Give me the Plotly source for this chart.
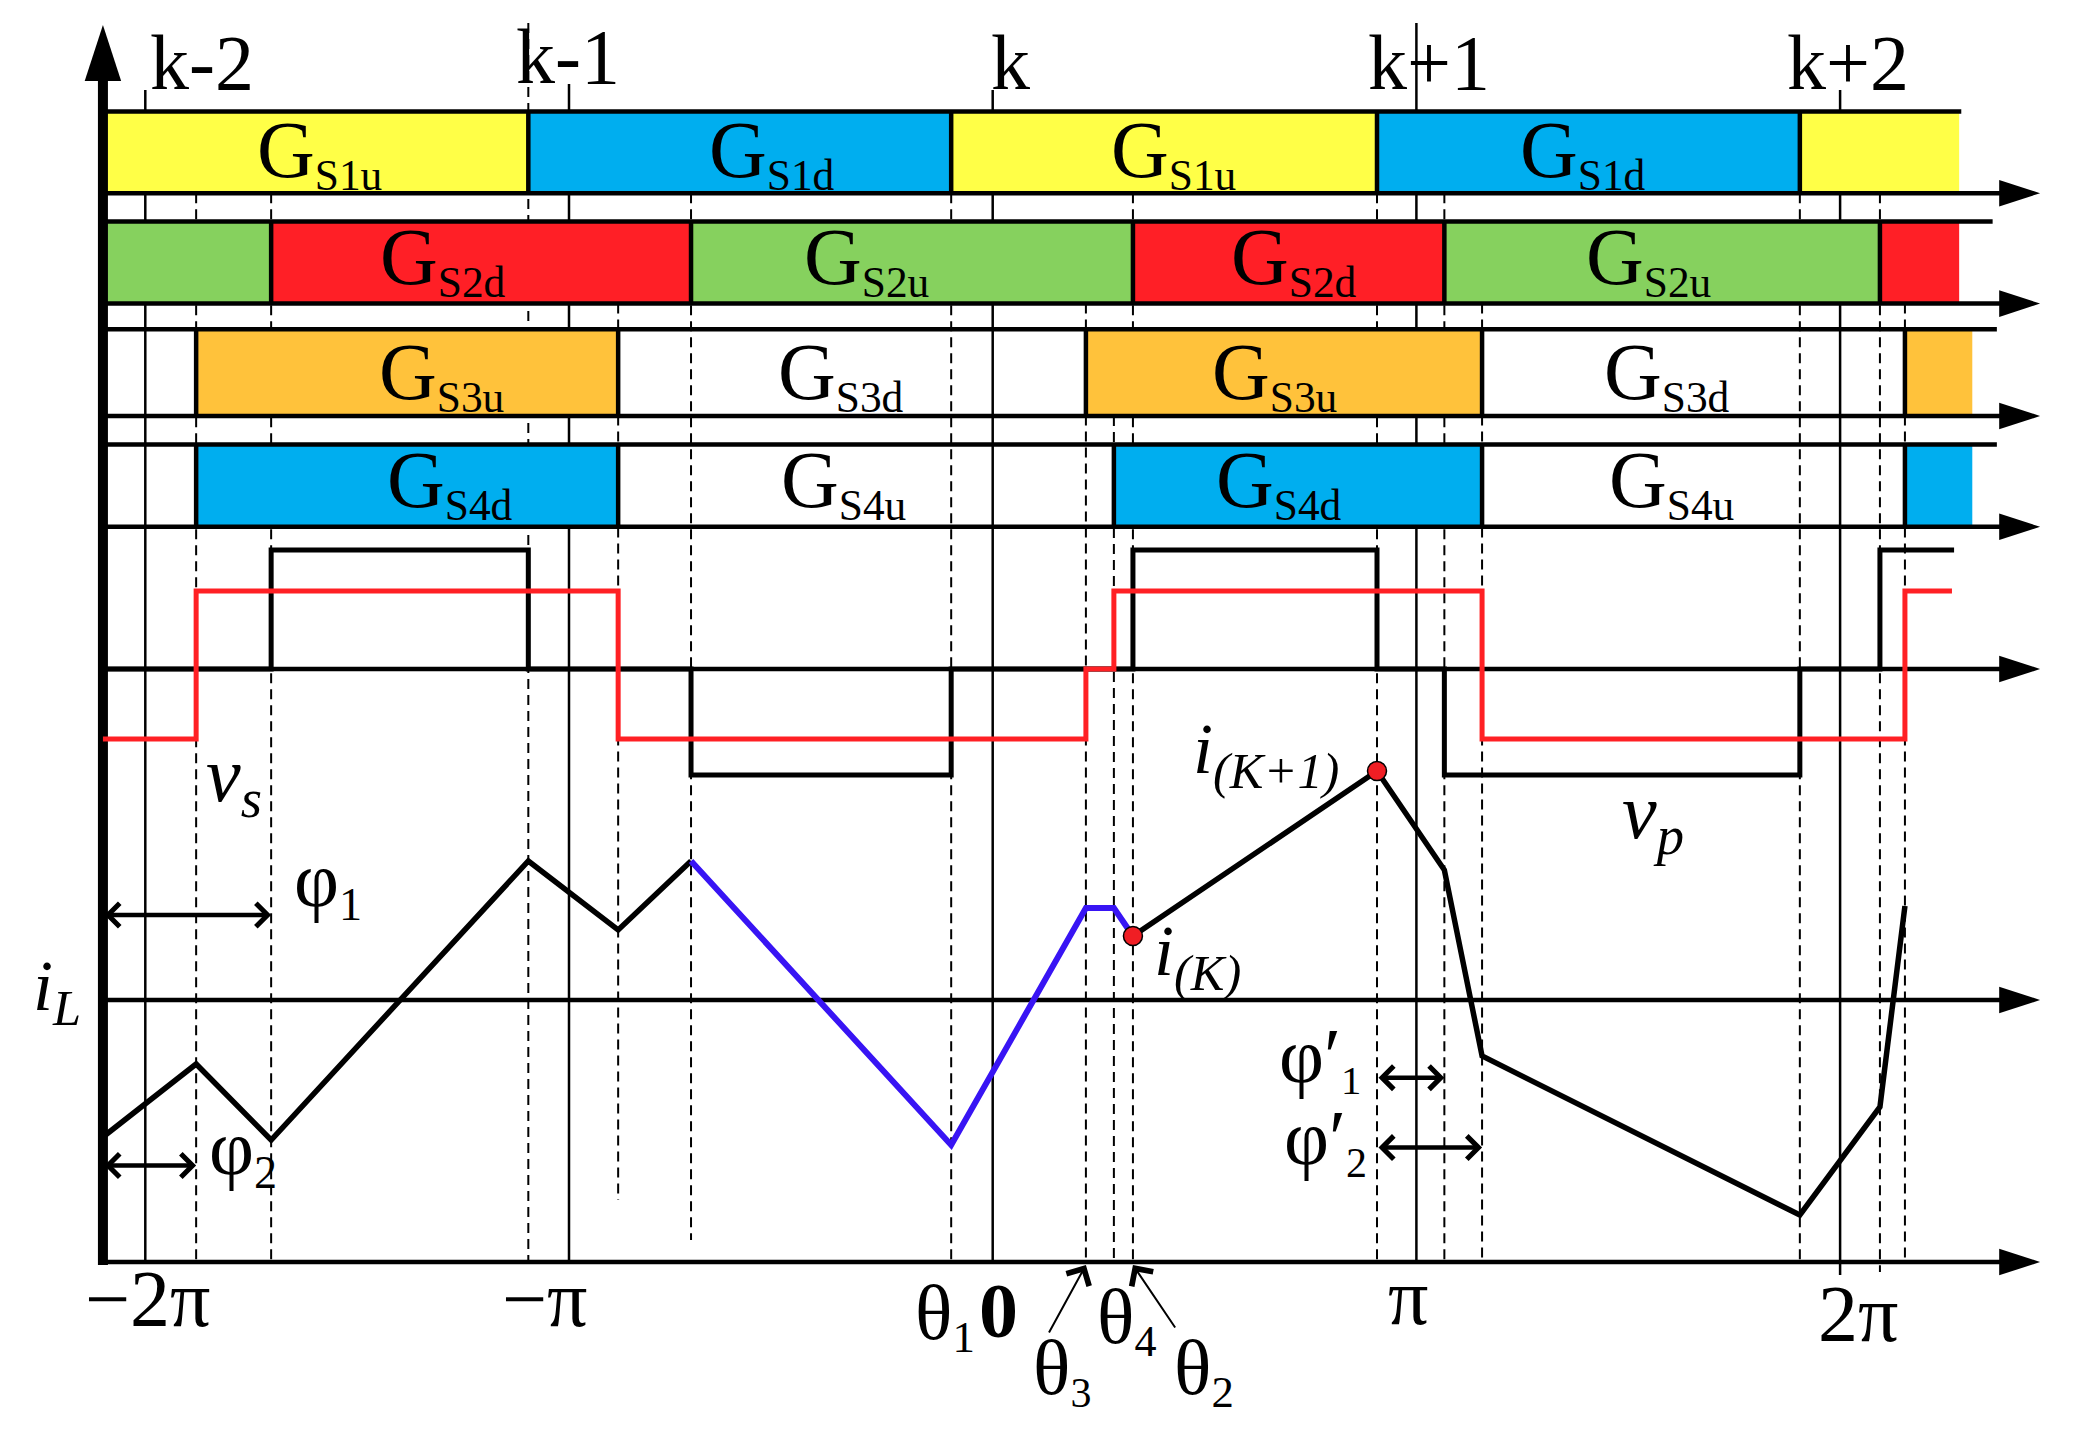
import plotly.graph_objects as go

# ======================= DATA (phase in units of pi) =======================
PHASE_AXIS = -2.100                      # phase at the vertical axis
K_PHASES = [-2, -1, 0, 1, 2]
K_LABELS = ["k-2", "k-1", "k", "k+1", "k+2"]
TICK_PHASES = [-2, -1, 1, 2]
TICK_LABELS = ["−2π", "−π", "π", "2π"]

# gate switching instants
S1_EDGES = [-1.096, -0.098, 0.907, 1.905]
S2_EDGES = [-1.703, -0.712, 0.331, 1.066, 2.094]
S3_EDGES = [-1.880, -0.884, 0.220, 1.155, 2.153]
S4_EDGES = [-1.880, -0.884, 0.286, 1.155, 2.153]
S12_END = 2.281
S34_END = 2.312
S1_STATES = ["u", "d", "u", "d", "u"]
S2_STATES = ["u", "d", "u", "d", "u", "d"]
S3_STATES = ["d", "u", "d", "u", "d", "u"]
S4_STATES = ["u", "d", "u", "d", "u", "d"]
S1_LABELS = ["S1u", "S1d", "S1u", "S1d"]
S2_LABELS = ["S2d", "S2u", "S2d", "S2u"]
S3_LABELS = ["S3u", "S3d", "S3u", "S3d"]
S4_LABELS = ["S4d", "S4u", "S4d", "S4u"]

# bridge voltages (piecewise constant)
VP_EDGES = [-2.100, -1.703, -1.096, -0.712, -0.098, 0.331, 0.907, 1.066, 1.905, 2.094]
VP_LEVELS = [0, 1.19, 0, -1.06, 0, 1.19, 0, -1.06, 0, 1.19]
VP_END = 2.269
VS_EDGES = [-2.100, -1.880, -0.884, 0.220, 0.286, 1.155, 2.153]
VS_LEVELS = [-0.70, 0.78, -0.70, 0.0, 0.78, -0.70, 0.78]
VS_END = 2.264

# inductor current
IL1_PHASE = [-2.100, -1.880, -1.703, -1.096, -0.884, -0.712]
IL1 = [-1.37, -0.64, -1.40, 1.39, 0.70, 1.39]
IL2_PHASE = [-0.712, -0.098, 0.220, 0.286, 0.331]
IL2 = [1.39, -1.45, 0.92, 0.92, 0.64]
IL3_PHASE = [0.331, 0.907, 1.066, 1.155, 1.905, 2.094, 2.153]
IL3 = [0.64, 2.29, 1.30, -0.56, -2.15, -1.07, 0.94]

THETA1, THETA3, THETA4, THETA2 = -0.098, 0.220, 0.286, 0.331

# ======================= LAYOUT CONSTANTS =======================
W, H = 2084, 1434          # reference canvas
PAGE = 8                   # browser body margin around the figure
FIG_W, FIG_H = W - 2 * PAGE, H - 2 * PAGE
X_ZERO_PX = 992.7
PX_PER_PI = 423.7
X_RANGE = [(PAGE - X_ZERO_PX) / PX_PER_PI, (FIG_W + PAGE - X_ZERO_PX) / PX_PER_PI]
Y_RANGE = [FIG_H + PAGE, PAGE]

ROW_TOP = [111.4, 221.4, 329.3, 444.6]
ROW_BOT = [193.2, 303.6, 416.0, 526.8]
ROW_TOPLINE_END = [2.286, 2.360, 2.370, 2.370]
ARROW_TIP = 2.472
V_AXIS_Y, IL_AXIS_Y, T_AXIS_Y = 669, 1000, 1262
Y_AXIS_TOP = 25
V_PX_PER_UNIT = 100
I_PX_PER_UNIT = 100

FONT = "Liberation Serif, Times New Roman, DejaVu Serif, serif"
COLORS = {
    "S1": {"u": "#FFFF47", "d": "#00AEEF"},
    "S2": {"u": "#86D15E", "d": "#FF1F26"},
    "S3": {"u": "#FFC23B", "d": None},
    "S4": {"u": None, "d": "#00AEEF"},
}
RED = "#FF2024"
BLUE_I = "#3814F4"


def vlines(phases, tops, bots):
    xs, ys = [], []
    for p, t, b in zip(phases, tops, bots):
        xs += [p, p, None]
        ys += [t, b, None]
    return xs, ys


def hlines(x0s, x1s, ys_):
    xs, ys = [], []
    for a, b, y in zip(x0s, x1s, ys_):
        xs += [a, b, None]
        ys += [y, y, None]
    return xs, ys


fig = go.Figure()

# ---------- thin vertical guide lines (below bars), subplot x-y ----------
R1B, R2B, R3B = ROW_BOT[0], ROW_BOT[1], ROW_BOT[2]
K_TOP = [90, 84, 90, 23, 90]
K_BOT = [T_AXIS_Y, T_AXIS_Y, T_AXIS_Y, T_AXIS_Y, 1275]
x, y = vlines(K_PHASES, K_TOP, K_BOT)
fig.add_scatter(x=x, y=y, mode="lines", line=dict(color="black", width=2.5),
                yaxis="y", hoverinfo="skip")

DASHED = [
    (S3_EDGES[0], R1B, T_AXIS_Y), (S2_EDGES[0], R1B, T_AXIS_Y),
    (S1_EDGES[0], 23, T_AXIS_Y), (S3_EDGES[1], R2B, 1200),
    (S2_EDGES[1], R1B, 1240), (S1_EDGES[1], R1B, T_AXIS_Y),
    (S3_EDGES[2], R2B, T_AXIS_Y), (S4_EDGES[2], R3B, T_AXIS_Y),
    (S2_EDGES[2], R1B, T_AXIS_Y), (S1_EDGES[2], R1B, T_AXIS_Y),
    (S2_EDGES[3], R1B, T_AXIS_Y), (S3_EDGES[3], R2B, T_AXIS_Y),
    (S1_EDGES[3], R1B, T_AXIS_Y), (S2_EDGES[4], R1B, 1272),
    (S3_EDGES[4], R2B, T_AXIS_Y),
]
x, y = vlines([d[0] for d in DASHED], [d[1] for d in DASHED], [d[2] for d in DASHED])
fig.add_scatter(x=x, y=y, mode="lines", line=dict(color="black", width=2, dash="10px,6px"),
                yaxis="y", hoverinfo="skip")

# ---------- gate bars, subplot x-y2 ----------
ROWS = [
    ("S1", S1_EDGES, S1_STATES, S12_END),
    ("S2", S2_EDGES, S2_STATES, S12_END),
    ("S3", S3_EDGES, S3_STATES, S34_END),
    ("S4", S4_EDGES, S4_STATES, S34_END),
]
div_x, div_t, div_b = [], [], []
for r, (name, edges, states, end) in enumerate(ROWS):
    starts = [PHASE_AXIS] + edges
    ends = edges + [end]
    cols = [COLORS[name][s] for s in states]
    keep = [i for i, c in enumerate(cols) if c]
    fig.add_bar(
        x=[ends[i] - starts[i] for i in keep], base=[starts[i] for i in keep],
        y=[(ROW_TOP[r] + ROW_BOT[r]) / 2] * len(keep), orientation="h",
        width=ROW_BOT[r] - ROW_TOP[r],
        marker=dict(color=[cols[i] for i in keep], line=dict(width=0)),
        yaxis="y2", hoverinfo="skip",
    )
    div_x += edges
    div_t += [ROW_TOP[r]] * len(edges)
    div_b += [ROW_BOT[r]] * len(edges)

x, y = vlines(div_x, div_t, div_b)
fig.add_scatter(x=x, y=y, mode="lines", line=dict(color="black", width=4.5),
                yaxis="y2", hoverinfo="skip")

# horizontal lines: row tops, row axes, v axis, iL axis, time axis
AX_YS = ROW_BOT + [V_AXIS_Y, IL_AXIS_Y, T_AXIS_Y]
x0s = [PHASE_AXIS] * (len(ROW_TOP) + len(AX_YS))
x1s = ROW_TOPLINE_END + [ARROW_TIP - 0.03] * len(AX_YS)
x, y = hlines(x0s, x1s, ROW_TOP + AX_YS)
fig.add_scatter(x=x, y=y, mode="lines", line=dict(color="black", width=4.5),
                yaxis="y2", hoverinfo="skip")

# vertical axis
fig.add_scatter(x=[PHASE_AXIS, PHASE_AXIS], y=[T_AXIS_Y + 3, Y_AXIS_TOP + 40], mode="lines",
                line=dict(color="black", width=10), yaxis="y2", hoverinfo="skip")
# arrow heads
fig.add_scatter(x=[ARROW_TIP] * len(AX_YS), y=AX_YS, mode="markers",
                marker=dict(symbol="arrow", angle=90, size=43, color="black", line=dict(width=0)),
                yaxis="y2", hoverinfo="skip")
fig.add_scatter(x=[PHASE_AXIS], y=[Y_AXIS_TOP], mode="markers",
                marker=dict(symbol="arrow", angle=0, size=59, color="black", line=dict(width=0)),
                yaxis="y2", hoverinfo="skip")

# ---------- voltages, subplot x-y3 ----------
fig.add_scatter(x=VP_EDGES + [VP_END], y=VP_LEVELS + [VP_LEVELS[-1]], mode="lines",
                line=dict(color="black", width=5, shape="hv"), yaxis="y3", hoverinfo="skip")
fig.add_scatter(x=VS_EDGES + [VS_END], y=VS_LEVELS + [VS_LEVELS[-1]], mode="lines",
                line=dict(color=RED, width=5, shape="hv"), yaxis="y3", hoverinfo="skip")

# ---------- inductor current, subplot x-y4 ----------
fig.add_scatter(x=IL1_PHASE, y=IL1, mode="lines", line=dict(color="black", width=5.5),
                yaxis="y4", hoverinfo="skip")
fig.add_scatter(x=IL3_PHASE, y=IL3, mode="lines", line=dict(color="black", width=5.5),
                yaxis="y4", hoverinfo="skip")
fig.add_scatter(x=IL2_PHASE, y=IL2, mode="lines", line=dict(color=BLUE_I, width=6),
                yaxis="y4", hoverinfo="skip")
fig.add_scatter(x=IL3_PHASE[:2], y=IL3[:2], mode="markers",
                marker=dict(size=19, color="#F01E24", line=dict(color="black", width=1.5)),
                yaxis="y4", hoverinfo="skip")

# ---------- annotations ----------
ann = []


def txt(text, xp, yp, size, xanchor="center"):
    ann.append(dict(text=text, x=xp, y=yp, xref="x", yref="y", showarrow=False,
                    xanchor=xanchor, yanchor="middle",
                    font=dict(family=FONT, size=size, color="black")))


def sub(main, s, span):
    return f"{main}<span style='font-size:{span}px'><sub>{s}</sub></span>"


K_LABEL_X = [-1.866, -1.002, 0.043, 1.030, 2.019]
K_LABEL_Y = [62, 56, 62, 62, 62]
for t, xp, yp in zip(K_LABELS, K_LABEL_X, K_LABEL_Y):
    txt(t, xp, yp, 78)

TICK_LABEL_X = [-1.994, -1.056, 0.980, 2.042]
TICK_LABEL_Y = [1299, 1299, 1297, 1314]
for t, xp, yp in zip(TICK_LABELS, TICK_LABEL_X, TICK_LABEL_Y):
    txt(t, xp, yp, 80)

GATE_LABEL_X = [
    [-1.588, -0.521, 0.426, 1.393],
    [-1.297, -0.299, 0.711, 1.547],
    [-1.300, -0.358, 0.664, 1.591],
    [-1.282, -0.351, 0.676, 1.601],
]
GATE_LABEL_Y = [152.5, 259.5, 374.5, 482]
for r, labels in enumerate([S1_LABELS, S2_LABELS, S3_LABELS, S4_LABELS]):
    for lab, xp in zip(labels, GATE_LABEL_X[r]):
        txt(sub("G", lab, 62), xp, GATE_LABEL_Y[r], 80)

txt("<i>v</i><sub><i>s</i></sub>", -1.862, 780, 78, "left")
txt("<i>v</i><sub><i>p</i></sub>", 1.481, 817, 78, "left")
txt("<i>i</i><sub><i>L</i></sub>", -2.270, 991, 72, "left")
txt("<i>i</i><sub><i>(K)</i></sub>", 0.377, 955.5, 72, "left")
txt("<i>i</i><sub><i>(K+1)</i></sub>", 0.468, 754, 72, "left")
txt(sub("φ", "1", 66), -1.654, 883, 78, "left")
txt(sub("φ", "2", 66), -1.854, 1151, 78, "left")
txt(sub("φ′", "1", 58), 0.670, 1057, 78, "left")
txt(sub("φ′", "2", 60), 0.683, 1140, 78, "left")
txt(sub("θ", "1", 64), -0.188, 1315, 78, "left")
txt("<b>0</b>", -0.037, 1310.7, 78, "left")
txt(sub("θ", "3", 60), 0.090, 1369.5, 78, "left")
txt(sub("θ", "4", 63), 0.241, 1319.6, 78, "left")
txt(sub("θ", "2", 64), 0.422, 1370.4, 78, "left")


def darrow(x0, x1, yp):
    ann.append(dict(text="", x=x1, y=yp, ax=x0, ay=yp, xref="x", yref="y", axref="x", ayref="y",
                    showarrow=True, arrowhead=4, startarrowhead=4, arrowside="end+start",
                    arrowwidth=4.5, arrowsize=1, startarrowsize=1, arrowcolor="black", standoff=0,
                    startstandoff=0))


darrow(PHASE_AXIS, S2_EDGES[0], 915)
darrow(PHASE_AXIS, S3_EDGES[0], 1165.5)
darrow(S1_EDGES[2], S2_EDGES[3], 1077.7)
darrow(S1_EDGES[2], S3_EDGES[3], 1147.6)

for tip, tail_x, tail_y in [(THETA3, 0.131, 1334), (THETA2, 0.433, 1329)]:
    ann.append(dict(text="", x=tip, y=T_AXIS_Y + 3, ax=tail_x, ay=tail_y, xref="x", yref="y",
                    axref="x", ayref="y", showarrow=True, arrowhead=4, arrowwidth=2,
                    arrowsize=2.5, arrowcolor="black", standoff=0))

AX = dict(visible=False, showgrid=False, zeroline=False, fixedrange=True)
fig.update_layout(
    width=FIG_W, height=FIG_H, autosize=False,
    margin=dict(l=0, r=0, t=0, b=0, pad=0),
    paper_bgcolor="white", plot_bgcolor="white",
    showlegend=False, barmode="overlay",
    font=dict(family=FONT, color="black"),
    xaxis=dict(range=X_RANGE, **AX),
    yaxis=dict(range=Y_RANGE, **AX),
    yaxis2=dict(range=Y_RANGE, overlaying="y", **AX),
    yaxis3=dict(range=[(V_AXIS_Y - FIG_H - PAGE) / V_PX_PER_UNIT, (V_AXIS_Y - PAGE) / V_PX_PER_UNIT],
                overlaying="y", **AX),
    yaxis4=dict(range=[(IL_AXIS_Y - FIG_H - PAGE) / I_PX_PER_UNIT, (IL_AXIS_Y - PAGE) / I_PX_PER_UNIT],
                overlaying="y", **AX),
    annotations=ann,
)

fig.write_html("out.html", config={"displayModeBar": False})
